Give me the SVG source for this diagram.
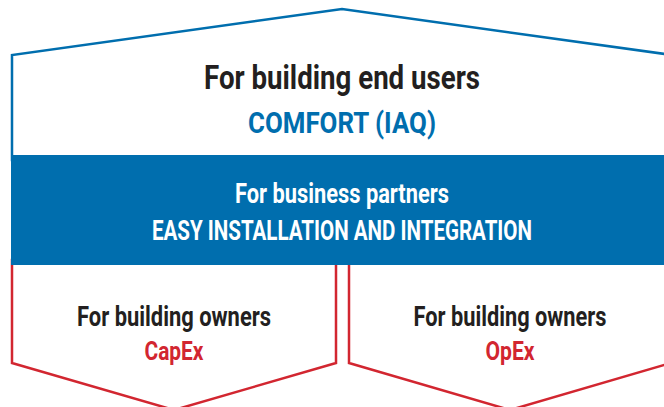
<svg xmlns="http://www.w3.org/2000/svg" width="664" height="407" viewBox="0 0 664 407">
<style>
.t{font-family:Roboto,"Liberation Sans",sans-serif;font-weight:700;text-anchor:middle}
.dk{fill:#231f20}
.bl{fill:#006eae}
.rd{fill:#d22630}
.wh{fill:#ffffff}
.hb{fill:#fff;stroke:#006eae;stroke-width:2.5}
.hr{fill:#fff;stroke:#d22630;stroke-width:2.5}
</style>
<rect width="664" height="407" fill="#fff"/>
<g id="end-users">
<polygon class="hb" points="12,160 12,55 342,9 672,55 672,160"/>
<text class="t dk" x="342" y="89" font-size="34" textLength="276" lengthAdjust="spacingAndGlyphs">For building end users</text>
<text class="t bl" x="342" y="133" font-size="30" textLength="188" lengthAdjust="spacingAndGlyphs">COMFORT (IAQ)</text>
</g>
<g id="owners-capex">
<polygon class="hr" points="12,260 12,363 174,410 336,363 336,260"/>
<text class="t dk" x="174" y="326" font-size="27" textLength="194" lengthAdjust="spacingAndGlyphs">For building owners</text>
<text class="t rd" x="174" y="360" font-size="26" textLength="59" lengthAdjust="spacingAndGlyphs">CapEx</text>
</g>
<g id="owners-opex">
<polygon class="hr" points="349,260 349,363 510,410 671,363 671,260"/>
<text class="t dk" x="510" y="326" font-size="27" textLength="193" lengthAdjust="spacingAndGlyphs">For building owners</text>
<text class="t rd" x="510" y="360" font-size="26" textLength="49" lengthAdjust="spacingAndGlyphs">OpEx</text>
</g>
<g id="business-partners">
<rect x="11" y="155" width="660" height="110" fill="#006eae"/>
<text class="t wh" x="342" y="203" font-size="28" textLength="214" lengthAdjust="spacingAndGlyphs">For business partners</text>
<text class="t wh" x="342" y="240" font-size="28" textLength="380" lengthAdjust="spacingAndGlyphs">EASY INSTALLATION AND INTEGRATION</text>
</g>
<g id="connectors"></g>
</svg>
